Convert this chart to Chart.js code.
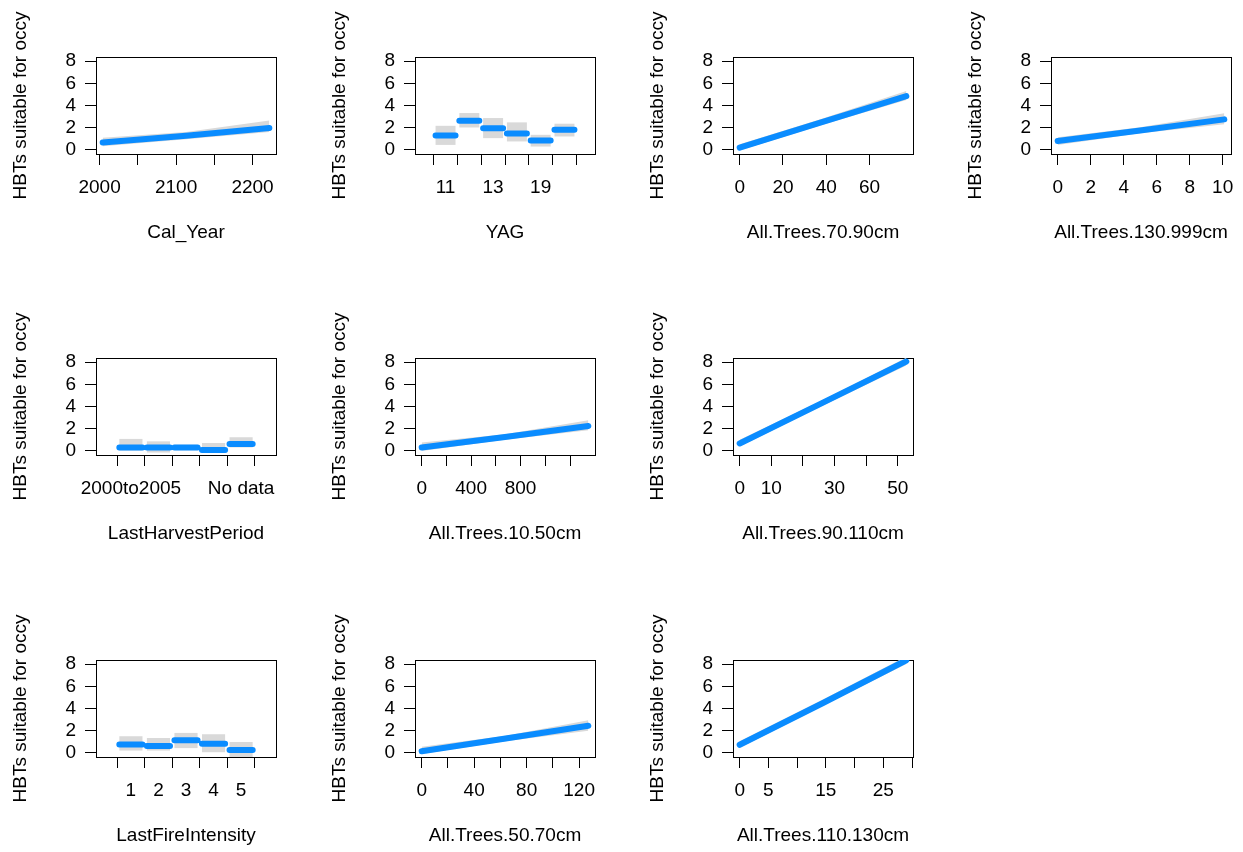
<!DOCTYPE html>
<html>
<head>
<meta charset="utf-8">
<script src="https://cdn.jsdelivr.net/npm/chart.js@4/dist/chart.umd.min.js"></script>
<style>
  body { margin: 0; background: #fff; width: 1243px; height: 852px; position: relative; overflow: hidden; }
  canvas { position: absolute; }
</style>
</head>
<body>
<script>
// shared y axis
var yTitle = 'HBTs suitable for occy';
var yTicks = [0, 2, 4, 6, 8];

// Cal_Year
var calYearX = [2004, 2113, 2222];
var calYearFit = [0.66, 1.28, 1.97];
var calYearLow = [0.32, 0.95, 1.62];
var calYearHigh = [1.1, 1.62, 2.65];
var calYearTicks = [2000, 2050, 2100, 2150, 2200];
var calYearLabels = ['2000', '', '2100', '', '2200'];

// YAG (factor)
var yagLabels = ['11', '', '13', '', '19', ''];
var yagFit = [1.3, 2.63, 1.96, 1.48, 0.85, 1.81];
var yagLow = [0.45, 2.02, 1.06, 0.76, 0.3, 1.21];
var yagHigh = [2.17, 3.32, 2.87, 2.48, 1.36, 2.36];

// All.Trees.70.90cm
var t7090X = [0, 38, 77];
var t7090Fit = [0.2, 2.5, 4.85];
var t7090Low = [-0.05, 2.25, 4.5];
var t7090High = [0.5, 2.8, 5.3];
var t7090Ticks = [0, 20, 40, 60];
var t7090Labels = ['0', '20', '40', '60'];

// All.Trees.130.999cm
var t130X = [0, 5, 10.1];
var t130Fit = [0.8, 1.75, 2.75];
var t130Low = [0.45, 1.5, 2.3];
var t130High = [1.15, 2.05, 3.3];
var t130Ticks = [0, 2, 4, 6, 8, 10];
var t130Labels = ['0', '2', '4', '6', '8', '10'];

// LastHarvestPeriod (factor)
var harvestLabels = ['2000to2005', '', '', '', 'No data'];
var harvestFit = [0.31, 0.31, 0.31, 0.09, 0.62];
var harvestLow = [0.0, -0.15, 0.06, -0.15, 0.31];
var harvestHigh = [1.08, 0.86, 0.55, 0.71, 1.23];

// All.Trees.10.50cm
var t1050X = [0, 674, 1348];
var t1050Fit = [0.3, 1.25, 2.25];
var t1050Low = [0.0, 1.0, 1.85];
var t1050High = [0.75, 1.5, 2.75];
var t1050Ticks = [0, 200, 400, 600, 800, 1000, 1200];
var t1050Labels = ['0', '', '400', '', '800', '', ''];

// All.Trees.90.110cm
var t90110X = [0, 26, 52.7];
var t90110Fit = [0.67, 4.3, 8.05];
var t90110Low = [0.4, 4.05, 7.7];
var t90110High = [1.0, 4.55, 8.4];
var t90110Ticks = [0, 10, 20, 30, 40, 50];
var t90110Labels = ['0', '10', '', '30', '', '50'];

// LastFireIntensity (factor)
var fireLabels = ['1', '2', '3', '4', '5'];
var fireFit = [0.76, 0.61, 1.13, 0.82, 0.27];
var fireLow = [0.21, 0.21, 0.43, 0.06, -0.4];
var fireHigh = [1.5, 1.34, 1.8, 1.68, 0.98];

// All.Trees.50.70cm
var t5070X = [0, 64, 127];
var t5070Fit = [0.15, 1.3, 2.45];
var t5070Low = [-0.1, 1.05, 2.0];
var t5070High = [0.55, 1.55, 2.95];
var t5070Ticks = [0, 20, 40, 60, 80, 100, 120];
var t5070Labels = ['0', '', '40', '', '80', '', '120'];

// All.Trees.110.130cm
var t110X = [0, 14.5, 29];
var t110Fit = [0.73, 4.5, 8.35];
var t110Low = [0.45, 4.25, 8.0];
var t110High = [1.05, 4.8, 8.7];
var t110Ticks = [0, 5, 10, 15, 20, 25, 30];
var t110Labels = ['0', '5', '', '15', '', '25', ''];

var panels = [
  { title: 'Cal_Year', row: 0, col: 0, x: calYearX, fit: calYearFit, low: calYearLow, high: calYearHigh, ticks: calYearTicks, labels: calYearLabels },
  { title: 'YAG', row: 0, col: 1, levels: yagLabels, fit: yagFit, low: yagLow, high: yagHigh },
  { title: 'All.Trees.70.90cm', row: 0, col: 2, x: t7090X, fit: t7090Fit, low: t7090Low, high: t7090High, ticks: t7090Ticks, labels: t7090Labels },
  { title: 'All.Trees.130.999cm', row: 0, col: 3, x: t130X, fit: t130Fit, low: t130Low, high: t130High, ticks: t130Ticks, labels: t130Labels },
  { title: 'LastHarvestPeriod', row: 1, col: 0, levels: harvestLabels, fit: harvestFit, low: harvestLow, high: harvestHigh },
  { title: 'All.Trees.10.50cm', row: 1, col: 1, x: t1050X, fit: t1050Fit, low: t1050Low, high: t1050High, ticks: t1050Ticks, labels: t1050Labels },
  { title: 'All.Trees.90.110cm', row: 1, col: 2, x: t90110X, fit: t90110Fit, low: t90110Low, high: t90110High, ticks: t90110Ticks, labels: t90110Labels },
  { title: 'LastFireIntensity', row: 2, col: 0, levels: fireLabels, fit: fireFit, low: fireLow, high: fireHigh },
  { title: 'All.Trees.50.70cm', row: 2, col: 1, x: t5070X, fit: t5070Fit, low: t5070Low, high: t5070High, ticks: t5070Ticks, labels: t5070Labels },
  { title: 'All.Trees.110.130cm', row: 2, col: 2, x: t110X, fit: t110Fit, low: t110Low, high: t110High, ticks: t110Ticks, labels: t110Labels }
];

// layout (page pixels)
var colLeft = [96, 415, 733, 1051];
var rowTop = [57, 358, 660];
var boxW = 180, boxH = 97;
var axisW = 96, padTop = 57, padRight = 30, xAxisH = 100;
var blue = '#0a8cff';
var gray = '#d9d9d9';
var half = 0.42; // half width of a factor level segment

Chart.defaults.font.family = "'Liberation Sans', Arial, sans-serif";
Chart.defaults.font.size = 19;
Chart.defaults.color = '#000';

var boxPlugin = {
  id: 'box',
  beforeDatasetsDraw: function (chart) {
    var a = chart.chartArea, c = chart.ctx;
    c.save();
    c.strokeStyle = '#000';
    c.lineWidth = 1;
    c.strokeRect(a.left + 0.5, a.top + 0.5, a.right - a.left, a.bottom - a.top);
    c.restore();
  }
};

panels.forEach(function (p) {
  var canvas = document.createElement('canvas');
  canvas.width = axisW + boxW + padRight;
  canvas.height = padTop + boxH + xAxisH;
  canvas.style.left = (colLeft[p.col] - axisW) + 'px';
  canvas.style.top = (rowTop[p.row] - padTop) + 'px';
  document.body.appendChild(canvas);

  var datasets, xTicks, xLabels, lo, hi;
  if (p.levels) {
    xTicks = p.levels.map(function (_, i) { return i + 1; });
    xLabels = p.levels;
    var segs = [];
    p.fit.forEach(function (v, i) {
      segs.push({ x: i + 1 - half, y: v }, { x: i + 1 + half, y: v }, { x: i + 1.5, y: null });
    });
    datasets = [
      { type: 'line', data: segs, borderColor: blue, borderWidth: 6, borderCapStyle: 'round', pointRadius: 0, order: 0, clip: 0 },
      { type: 'bar', data: p.low.map(function (l, i) { return { x: i + 1, y: [l, p.high[i]] }; }),
        backgroundColor: gray, borderWidth: 0, barPercentage: 2 * half, categoryPercentage: 1, order: 1, clip: 0 }
    ];
    lo = 1 - half; hi = p.levels.length + half;
  } else {
    xTicks = p.ticks;
    xLabels = p.labels;
    var pts = function (arr) { return p.x.map(function (x, i) { return { x: x, y: arr[i] }; }); };
    datasets = [
      { data: pts(p.fit), borderColor: blue, borderWidth: 6, borderCapStyle: 'round', pointRadius: 0, order: 0, clip: 0 },
      { data: pts(p.low), borderWidth: 0, pointRadius: 0, fill: false, order: 2, clip: 0 },
      { data: pts(p.high), borderWidth: 0, pointRadius: 0, fill: '-1', backgroundColor: gray, order: 1, clip: 0 }
    ];
    lo = p.x[0]; hi = p.x[p.x.length - 1];
  }
  var span = hi - lo;

  new Chart(canvas, {
    type: 'line',
    data: { datasets: datasets },
    plugins: [boxPlugin],
    options: {
      responsive: false,
      animation: false,
      devicePixelRatio: 1,
      events: [],
      layout: { padding: { left: 0, top: padTop, right: padRight, bottom: 0 } },
      plugins: { legend: { display: false }, tooltip: { enabled: false } },
      scales: {
        x: {
          type: 'linear',
          min: lo - 0.04 * span,
          max: hi + 0.04 * span,
          afterBuildTicks: function (s) { s.ticks = xTicks.map(function (v) { return { value: v }; }); },
          afterFit: function (s) { s.height = xAxisH; },
          ticks: { autoSkip: false, maxRotation: 0, padding: 11, callback: function (v, i) { return xLabels[i]; } },
          grid: { drawOnChartArea: false, drawTicks: true, tickLength: 11, color: '#000' },
          border: { display: true, color: '#000' },
          title: { display: true, text: p.title, padding: { top: 0, bottom: 9.6 } }
        },
        y: {
          type: 'linear',
          min: -0.37,
          max: 8.37,
          afterBuildTicks: function (s) { s.ticks = yTicks.map(function (v) { return { value: v }; }); },
          afterFit: function (s) { s.width = axisW; },
          ticks: { autoSkip: false, padding: 9 },
          grid: { drawOnChartArea: false, drawTicks: true, tickLength: 11, color: '#000' },
          border: { display: true, color: '#000' },
          title: { display: true, text: yTitle, padding: { top: 9.6, bottom: 0 } }
        }
      }
    }
  });
});
</script>
</body>
</html>
